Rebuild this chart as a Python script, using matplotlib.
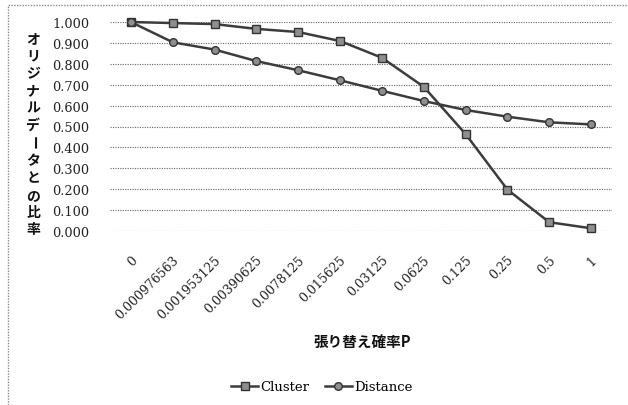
import matplotlib
matplotlib.use("Agg")
import matplotlib.pyplot as plt
import matplotlib.transforms as mtransforms
from matplotlib.patches import Rectangle

# Rewiring probability categories and normalised ratios
categories = ["0", "0.000976563", "0.001953125", "0.00390625", "0.0078125",
              "0.015625", "0.03125", "0.0625", "0.125", "0.25", "0.5", "1"]
cluster = [1.000, 0.995, 0.990, 0.967, 0.952, 0.909, 0.829, 0.690,
           0.464, 0.198, 0.042, 0.013]
distance = [1.000, 0.903, 0.868, 0.813, 0.769, 0.721, 0.671, 0.622,
            0.579, 0.547, 0.520, 0.510]
yticks = [0.0, 0.1, 0.2, 0.3, 0.4, 0.5, 0.6, 0.7, 0.8, 0.9, 1.0]

ylabel = "オリジナルデータとの比率"
xlabel = "張り替え確率P"

W, H = 628, 406
fig = plt.figure(figsize=(W / 100, H / 100), dpi=100)
fig.patch.set_facecolor("white")

# dotted chart-area border
fig.patches.append(Rectangle((8 / W, -0.1), 1.2, 1 - 6 / H + 0.1,
                             transform=fig.transFigure, fill=False,
                             edgecolor="#8a8a8a", linestyle=(0, (1, 1)),
                             linewidth=1.0, zorder=0))

ax = fig.add_axes([110 / W, 1 - 232 / H, 502 / W, 209 / H])
x = list(range(len(categories)))

line_kw = dict(color="#3c3c3c", linewidth=1.8, markeredgecolor="#333333",
               markerfacecolor="#8e8e8e", markeredgewidth=1.0, clip_on=False,
               zorder=3)
ax.plot(x, cluster, marker="s", markersize=5.5, label="Cluster", **line_kw)
ax.plot(x, distance, marker="o", markersize=5.5, label="Distance", **line_kw)

ax.set_xlim(-0.5, len(categories) - 0.5)
ax.set_ylim(0, 1)
ax.set_yticks(yticks)
ax.set_yticklabels([f"{v:.3f}" for v in yticks], fontfamily="DejaVu Serif",
                   fontsize=9.3, color="#222222")
ax.tick_params(axis="y", length=0, pad=15)

ax.set_xticks(x)
ax.set_xticklabels(categories, fontfamily="DejaVu Serif", fontsize=9.0,
                   color="#222222", rotation=45, ha="right", va="center",
                   rotation_mode="anchor")
ax.tick_params(axis="x", length=0, pad=19)
offset = mtransforms.ScaledTranslation(4 / 100, 0, fig.dpi_scale_trans)
for lbl in ax.get_xticklabels():
    lbl.set_transform(lbl.get_transform() + offset)

ax.grid(axis="y", color="#666666", linestyle=(0, (1, 1.2)), linewidth=0.8)
ax.set_axisbelow(True)
for s in ax.spines.values():
    s.set_visible(False)

# vertical stacked y-axis title
top_y, step = 39, 17.4
for i, ch in enumerate(ylabel):
    fig.text(33 / W, 1 - (top_y + i * step) / H, ch,
             rotation=-90 if ch == "ー" else 0,
             fontfamily=["Noto Sans CJK JP", "DejaVu Sans"], fontweight="bold",
             fontsize=10, ha="center", va="center", color="#111111")

fig.text(362 / W, 1 - 342 / H, xlabel,
         fontfamily=["Noto Sans CJK JP", "DejaVu Serif"], fontweight="bold",
         fontsize=10.5, ha="center", va="center", color="#111111")

fig.legend(loc="center", bbox_to_anchor=(322 / W, 1 - 388 / H), ncol=2,
           frameon=False, handlelength=2.0, columnspacing=1.2,
           handletextpad=0.2,
           prop={"family": "DejaVu Serif", "size": 9.5})

fig.savefig("out.png", dpi=100, facecolor="white")
